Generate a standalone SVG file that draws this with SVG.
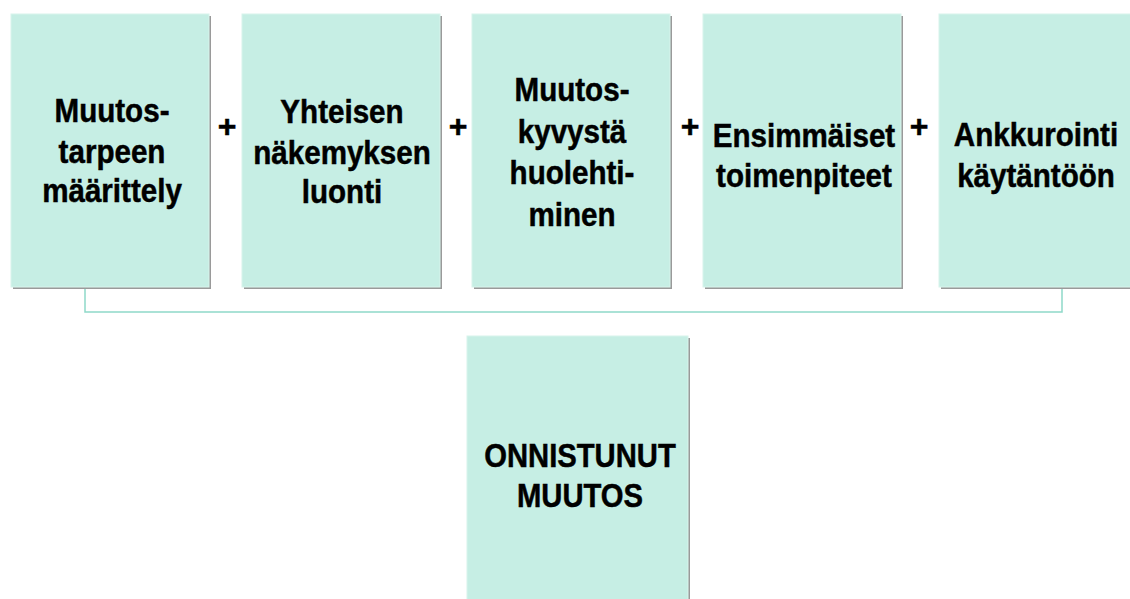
<svg xmlns="http://www.w3.org/2000/svg" width="1130" height="599" viewBox="0 0 1130 599">
<style>
.sh{fill:#9a9a9a}
.bx{fill:#c6eee4;stroke:#d8f4ec;stroke-width:1}
.t{font-family:"Liberation Sans",Arial,sans-serif;font-weight:bold;font-size:34px;fill:#000;stroke:#000;stroke-width:0.5;text-anchor:middle}
.p{font-family:"Liberation Sans",Arial,sans-serif;font-weight:bold;font-size:32px;fill:#000;stroke:#000;stroke-width:0.5;text-anchor:middle}
.c{fill:none;stroke:#8fd9c9;stroke-width:1.5}
</style>
<rect width="1130" height="599" fill="#fff"/>
<g id="connectors">
<path class="c" d="M85,289 V312 H1062 V289"/>
</g>
<g id="n1">
<rect class="sh" x="13" y="16" width="198" height="273"/>
<rect class="bx" x="11" y="14" width="198" height="273"/>
<text class="t" transform="translate(112,0) scale(0.87,1)"><tspan x="0" y="122">Muutos-</tspan><tspan x="0" y="163">tarpeen</tspan><tspan x="0" y="202">määrittely</tspan></text>
</g>
<g id="n2">
<rect class="sh" x="244" y="16" width="198" height="273"/>
<rect class="bx" x="242" y="14" width="198" height="273"/>
<text class="t" transform="translate(342,0) scale(0.87,1)"><tspan x="0" y="123">Yhteisen</tspan><tspan x="0" y="164">näkemyksen</tspan><tspan x="0" y="203">luonti</tspan></text>
</g>
<g id="n3">
<rect class="sh" x="474" y="16" width="198" height="273"/>
<rect class="bx" x="472" y="14" width="198" height="273"/>
<text class="t" transform="translate(572,0) scale(0.87,1)"><tspan x="0" y="101">Muutos-</tspan><tspan x="0" y="143">kyvystä</tspan><tspan x="0" y="184">huolehti-</tspan><tspan x="0" y="226">minen</tspan></text>
</g>
<g id="n4">
<rect class="sh" x="705" y="16" width="198" height="273"/>
<rect class="bx" x="703" y="14" width="198" height="273"/>
<text class="t" transform="translate(804,0) scale(0.87,1)"><tspan x="0" y="147">Ensimmäiset</tspan><tspan x="0" y="187">toimenpiteet</tspan></text>
</g>
<g id="n5">
<rect class="sh" x="941" y="16" width="198" height="273"/>
<rect class="bx" x="939" y="14" width="198" height="273"/>
<text class="t" transform="translate(1036,0) scale(0.87,1)"><tspan x="0" y="146">Ankkurointi</tspan><tspan x="0" y="187">käytäntöön</tspan></text>
</g>
<g id="n6">
<rect class="sh" x="469" y="338" width="221" height="270"/>
<rect class="bx" x="467" y="336" width="221" height="270"/>
<text class="t" transform="translate(580,0) scale(0.86,1)"><tspan x="0" y="467">ONNISTUNUT</tspan><tspan x="0" y="507">MUUTOS</tspan></text>
</g>
<g id="plus">
<text class="p" x="227" y="137">+</text>
<text class="p" x="458" y="137">+</text>
<text class="p" x="690" y="137">+</text>
<text class="p" x="919" y="137">+</text>
</g>
</svg>
